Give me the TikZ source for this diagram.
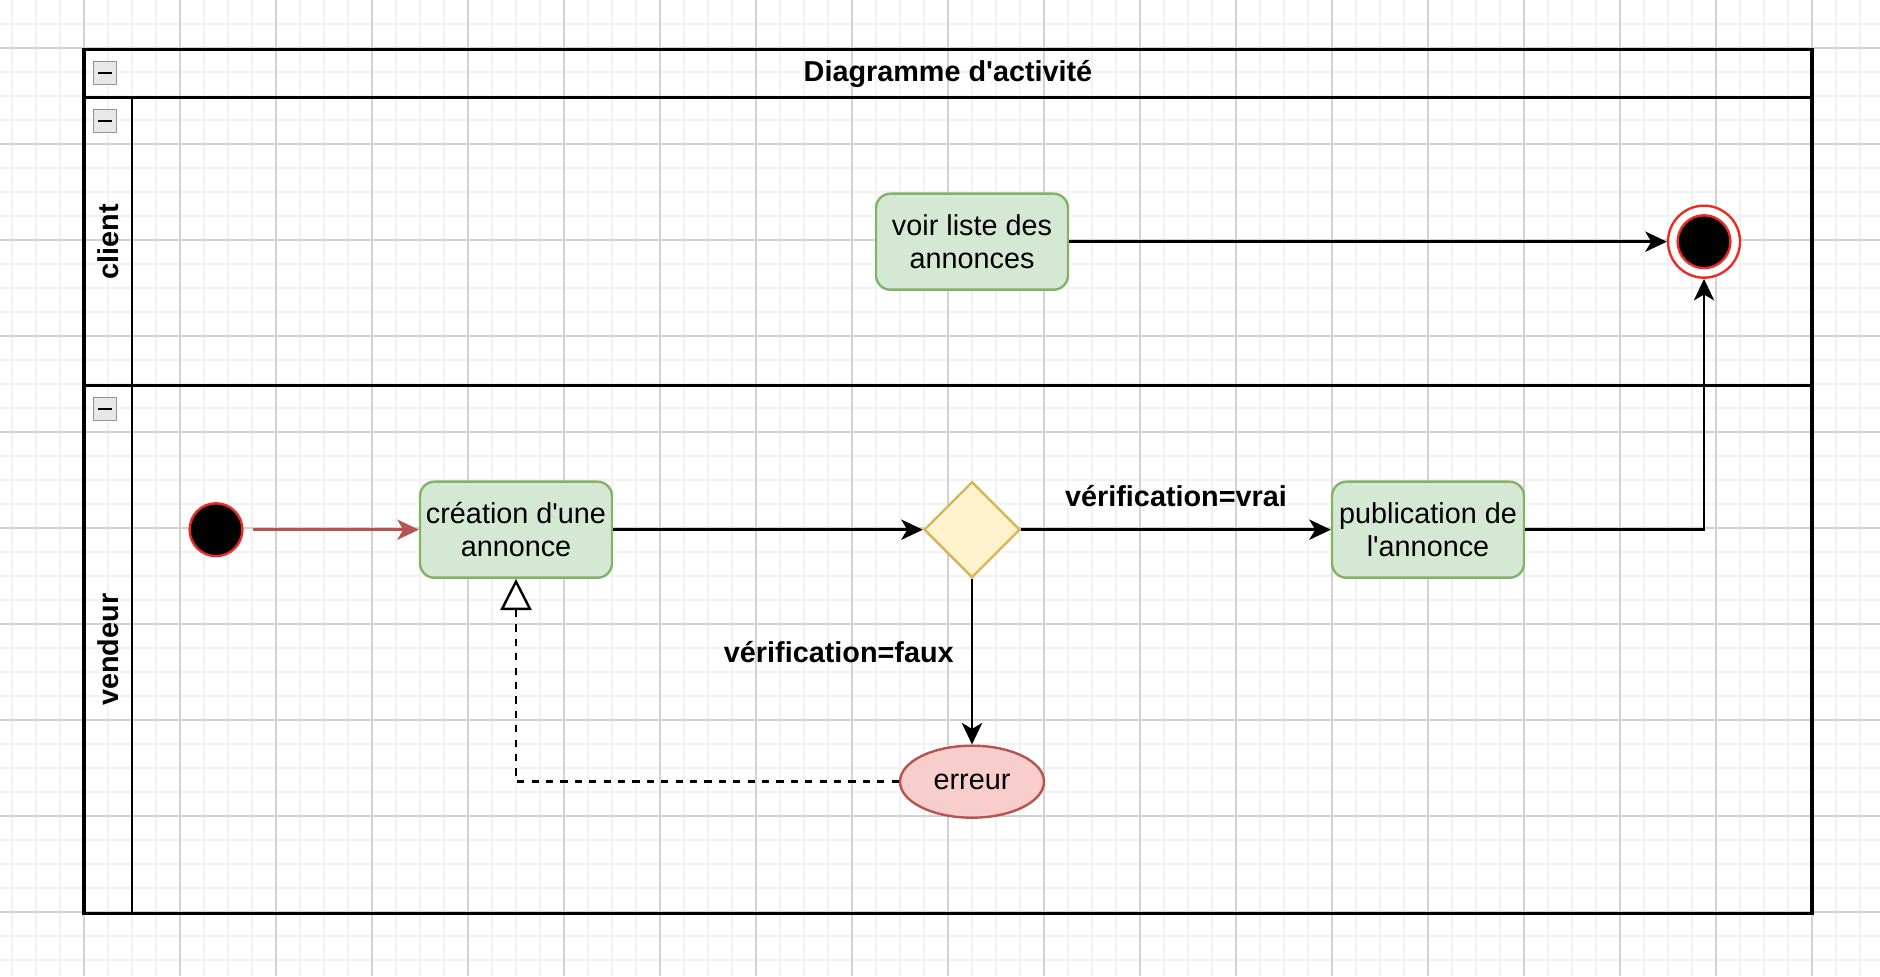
\documentclass[tikz,border=0pt]{standalone}
\usepackage{fontspec}
\setmainfont{Liberation Sans}
\usetikzlibrary{shapes.geometric,arrows.meta}

\definecolor{actfill}{HTML}{D5E8D4}
\definecolor{actline}{HTML}{82B366}
\definecolor{decfill}{HTML}{FFF2CC}
\definecolor{decline}{HTML}{D6B656}
\definecolor{errfill}{HTML}{F8CECC}
\definecolor{errline}{HTML}{B85450}
\definecolor{stateline}{HTML}{EE2A24}
\definecolor{gridminor}{HTML}{F2F2F2}
\definecolor{gridmajor}{HTML}{D2D2D2}
\definecolor{iconline}{HTML}{8E94A4}

\begin{document}
\begin{tikzpicture}[x=1pt,y=-1pt,
    action/.style={draw=actline,fill=actfill,line width=1pt,rounded corners=6pt,
        minimum width=80pt,minimum height=40pt,inner sep=0pt,align=center,font=\textfontsize},
    decision/.style={diamond,draw=decline,fill=decfill,line width=1pt,
        minimum width=40pt,minimum height=40pt,inner sep=0pt,aspect=1},
    errstate/.style={ellipse,draw=errline,fill=errfill,line width=1pt,
        minimum width=60pt,minimum height=30pt,inner sep=0pt,font=\textfontsize},
    startstate/.style={circle,draw=stateline,fill=black,line width=1pt,minimum size=22pt,inner sep=0pt},
    flow/.style={line width=1pt,-{Stealth[length=9pt,width=8.5pt,inset=2.5pt]}},
    guard/.style={font=\textfontsize\bfseries,inner sep=0pt}]
    \pgfmathsetmacro{\poolwidth}{720}
    \pgfmathsetmacro{\poolheight}{360}
    \pgfmathsetmacro{\headheight}{20}
    \pgfmathsetmacro{\laneone}{140}
    \pgfmathsetmacro{\bandwidth}{20}
    \pgfmathsetmacro{\gridshift}{0.7}
    \providecommand{\textfontsize}{\fontsize{12}{14}\selectfont}
    \providecommand{\apos}{\textquotesingle}
    \useasboundingbox (-35,-20.7) rectangle (748.33,385.97);
    % background grid
    \begin{scope}
        \clip (-35,-20.7) rectangle (748.33,385.97);
        \fill[white] (-35,-20.7) rectangle (748.33,385.97);
        \foreach \gx in {-30,-20,...,740} \draw[gridminor,line width=0.8pt] (\gx,-20.7) -- (\gx,385.97);
        \foreach \gy in {-10,0,...,380} \draw[gridminor,line width=0.8pt] (-35,\gy-\gridshift) -- (748.33,\gy-\gridshift);
        \foreach \gx in {0,40,...,720} \draw[gridmajor,line width=0.45pt] (\gx,-20.7) -- (\gx,385.97);
        \foreach \gy in {0,40,...,360} \draw[gridmajor,line width=0.45pt] (-35,\gy-\gridshift) -- (748.33,\gy-\gridshift);
    \end{scope}
    % pool and lanes
    \draw[line width=1.3pt] (0,0) rectangle (\poolwidth,\poolheight);
    \draw[line width=1.3pt] (0,\headheight) -- (\poolwidth,\headheight);
    \draw[line width=1.3pt] (0,\laneone) -- (\poolwidth,\laneone);
    \draw[line width=1pt] (\bandwidth,\headheight) -- (\bandwidth,\poolheight);
    \node[font=\textfontsize\bfseries] (titre) at (\poolwidth/2,\headheight/2) {Diagramme d\apos activité};
    \node[font=\textfontsize\bfseries,rotate=90] (client) at (\bandwidth/2,80) {client};
    \node[font=\textfontsize\bfseries,rotate=90] (vendeur) at (\bandwidth/2,250) {vendeur};
    \foreach \iy in {5,25,145} {
        \draw[iconline,fill=gray!18,line width=0.6pt] (4,\iy) rectangle (13.5,\iy+9.5);
        \draw[black,line width=1pt] (6,\iy+4.75) -- (11.5,\iy+4.75);
    }
    % activities
    \node[action] (voirliste) at (370,80) {voir liste des\\annonces};
    \node[circle,draw=stateline,fill=white,line width=1pt,minimum size=30pt,inner sep=0pt] (fin) at (675,80) {};
    \node[startstate] (fincoeur) at (fin) {};
    \node[startstate] (debut) at (55,200) {};
    \node[action] (creation) at (180,200) {création d\apos une\\annonce};
    \node[decision] (verif) at (370,200) {};
    \node[action] (publication) at (560,200) {publication de\\l\apos annonce};
    \node[errstate] (erreur) at (370,305) {erreur};
    \node[guard] (vrai) at (455,186) {vérification=vrai};
    \node[guard] (faux) at (314.5,251) {vérification=faux};
    % transitions
    \draw[flow,draw=errline,fill=errline,shorten <=4pt] (debut) -- (creation);
    \draw[flow] (creation) -- (verif);
    \draw[flow] (verif) -- (publication);
    \draw[flow] (verif) -- (erreur);
    \draw[line width=1pt,dash pattern=on 3pt off 3pt,-{Triangle[open,fill=white,length=13pt,width=13pt]}] (erreur) -| (creation);
    \draw[flow] (publication) -| (fin);
    \draw[flow] (voirliste) -- (fin);
\end{tikzpicture}
\end{document}
